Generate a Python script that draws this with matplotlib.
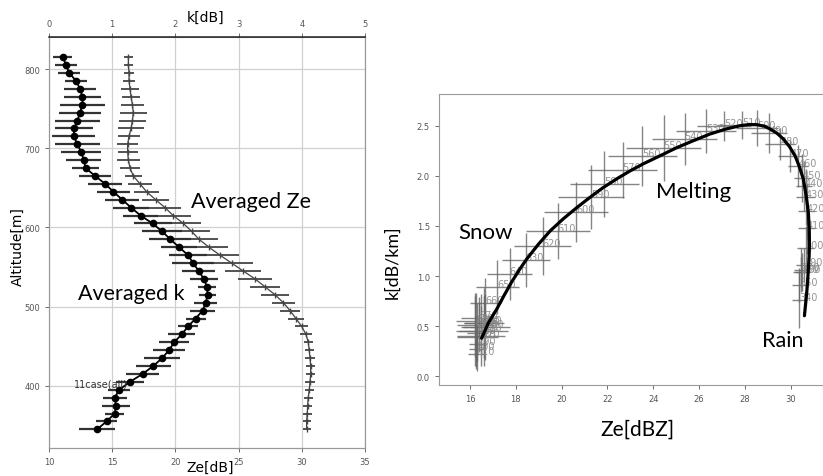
import numpy as np
import matplotlib
matplotlib.use("Agg")
import matplotlib.pyplot as plt

# altitude of each averaged bin [m] (top to bottom)
altitude = [815, 805, 795, 785, 775, 765, 755, 745, 735, 725, 715, 705,
            695, 685, 675, 665, 655, 645, 635, 625, 615, 605, 595, 585,
            575, 565, 555, 545, 535, 525, 515, 505, 495, 485, 475, 465,
            455, 445, 435, 425, 415, 405, 395, 385, 375, 365, 355, 345]

# averaged k [dB]
k_mean = [0.22, 0.27, 0.32, 0.43, 0.49, 0.53, 0.53, 0.49, 0.45, 0.40, 0.39, 0.45,
          0.51, 0.55, 0.58, 0.73, 0.89, 1.02, 1.16, 1.30, 1.45, 1.64, 1.79, 1.92,
          2.06, 2.20, 2.28, 2.37, 2.45, 2.50, 2.51, 2.48, 2.43, 2.32, 2.20, 2.10,
          1.98, 1.90, 1.79, 1.65, 1.48, 1.28, 1.11, 1.04, 1.06, 1.04, 0.91, 0.76]
k_err = [0.15, 0.17, 0.17, 0.17, 0.25, 0.29, 0.35, 0.33, 0.35, 0.30, 0.34, 0.35,
         0.32, 0.28, 0.21, 0.25, 0.27, 0.26, 0.27, 0.29, 0.28, 0.30, 0.32, 0.33,
         0.28, 0.30, 0.33, 0.26, 0.22, 0.15, 0.14, 0.18, 0.20, 0.16, 0.16, 0.21,
         0.24, 0.25, 0.28, 0.28, 0.26, 0.22, 0.17, 0.19, 0.22, 0.15, 0.17, 0.28]

# averaged Ze [dB]
ze_mean = [16.28, 16.28, 16.33, 16.33, 16.41, 16.49, 16.60, 16.67, 16.60, 16.49, 16.33, 16.22,
           16.22, 16.28, 16.41, 16.67, 17.20, 17.73, 18.44, 19.18, 19.83, 20.63, 21.29, 21.87,
           22.66, 23.53, 24.45, 25.37, 26.30, 27.09, 27.88, 28.54, 29.07, 29.54, 29.99, 30.33,
           30.51, 30.59, 30.65, 30.70, 30.70, 30.65, 30.59, 30.51, 30.46, 30.43, 30.38, 30.38]
ze_err = [0.37, 0.34, 0.37, 0.46, 0.70, 0.74, 0.88, 1.06, 1.06, 1.06, 0.90, 0.83,
          0.79, 0.90, 0.79, 0.66, 0.92, 0.99, 1.06, 1.25, 1.39, 1.39, 1.45, 1.49,
          1.52, 1.52, 1.65, 1.41, 1.32, 1.19, 1.08, 0.92, 0.79, 0.66, 0.53, 0.44,
          0.37, 0.36, 0.40, 0.36, 0.36, 0.36, 0.36, 0.34, 0.33, 0.35, 0.32, 0.32]

# fitted Ze-k curve (right panel)
fit_ze = [16.51, 16.80, 17.17, 17.50, 17.82, 18.15, 18.48, 19.00, 19.50, 20.07,
          20.65, 21.24, 21.80, 22.41, 23.00, 23.57, 24.30, 25.02, 25.75, 26.48,
          27.15, 27.79, 28.20, 28.52, 28.85, 29.10, 29.40, 29.68, 29.95, 30.19,
          30.38, 30.55, 30.67, 30.77, 30.81, 30.82, 30.80, 30.77, 30.74, 30.70,
          30.65, 30.60]
fit_k = [0.38, 0.53, 0.67, 0.81, 0.94, 1.06, 1.17, 1.32, 1.45, 1.57,
         1.68, 1.785, 1.88, 1.97, 2.05, 2.12, 2.20, 2.28, 2.35, 2.417,
         2.465, 2.50, 2.512, 2.51, 2.495, 2.467, 2.425, 2.367, 2.29, 2.20,
         2.09, 1.968, 1.81, 1.636, 1.47, 1.30, 1.18, 1.07, 0.95, 0.837,
         0.72, 0.604]

W, H = 823, 477
fig = plt.figure(figsize=(W / 100, H / 100), dpi=100)


def fx(px):
    return px / W


def fy(py):
    return 1 - py / H


tick_kw = dict(labelsize=6, colors="#555555", length=3, width=0.6)
ann_font = ["Lato", "DejaVu Sans"]

# ---------------- left panel: profiles ----------------
ax = fig.add_axes([fx(49), fy(449), fx(365) - fx(49), fy(38) - fy(449)])
ax.set_xlim(10, 35)
ax.set_ylim(321.5, 840.5)
ax.set_xticks([10, 15, 20, 25, 30, 35])
ax.set_yticks([400, 500, 600, 700, 800])
ax.grid(True, color="#d0d0d0", lw=0.9)
ax.set_axisbelow(True)
ax.tick_params(**tick_kw)
for s in ax.spines.values():
    s.set_color("#999999")

ax.errorbar(ze_mean, altitude, xerr=ze_err, color="#444444", lw=0.9,
            elinewidth=1.3, ecolor="#444444", marker="|", ms=5, mew=1,
            capsize=0, zorder=3)

axk = ax.twiny()
axk.set_xlim(0, 5)
axk.set_xticks([0, 1, 2, 3, 4, 5])
axk.tick_params(**tick_kw)
for s in axk.spines.values():
    s.set_color("#999999")
axk.spines["top"].set_color("#222222")
axk.spines["top"].set_linewidth(1.1)
axk.errorbar(k_mean, altitude, xerr=k_err, color="black", lw=1.3,
             elinewidth=1.6, ecolor="#333333", marker="o", ms=4.5,
             capsize=0, zorder=4)

fig.text(fx(206), fy(18), "k[dB]", ha="center", va="center", fontsize=10)
fig.text(fx(210), fy(468), "Ze[dB]", ha="center", va="center", fontsize=10)
fig.text(fx(18), fy(247), "Altitude[m]", ha="center", va="center",
         rotation=90, fontsize=10)
fig.text(fx(191), fy(208), "Averaged Ze", ha="left", va="baseline",
         fontsize=15.5, family=ann_font)
fig.text(fx(78), fy(300), "Averaged k", ha="left", va="baseline",
         fontsize=15.5, family=ann_font)
fig.text(fx(74), fy(385), "11case(all)", ha="left", va="center",
         fontsize=7, color="#333333")

# ---------------- right panel: Ze vs k ----------------
ax2 = fig.add_axes([fx(439), fy(385.7), 1 - fx(439), fy(95) - fy(385.7)])
ax2.set_xlim(14.65, 31.41)
ax2.set_ylim(-0.084, 2.816)
ax2.set_xticks([16, 18, 20, 22, 24, 26, 28, 30])
ax2.set_yticks([0.0, 0.5, 1.0, 1.5, 2.0, 2.5])
ax2.set_yticklabels(["0.0", "0.5", "1.0", "1.5", "2.0", "2.5"])
ax2.tick_params(**tick_kw)
for s in ax2.spines.values():
    s.set_color("#999999")
ax2.spines["right"].set_visible(False)

ax2.errorbar(ze_mean, k_mean, xerr=ze_err, yerr=k_err, fmt="none",
             ecolor="#666666", elinewidth=1, alpha=0.8, capsize=0, zorder=2)
for z, kk, a in zip(ze_mean, k_mean, altitude):
    ax2.text(z, kk, str(a - 5), fontsize=7, color="#888888", alpha=0.9,
             zorder=3, clip_on=True)
ax2.plot(fit_ze, fit_k, color="black", lw=2.3, zorder=4,
         solid_capstyle="round", solid_joinstyle="round")

fig.text(fx(392), fy(262), "k[dB/km]", ha="center", va="center",
         rotation=90, fontsize=13, family=ann_font)
fig.text(fx(637), fy(430), "Ze[dBZ]", ha="center", va="center",
         fontsize=15, family=ann_font)
fig.text(fx(458), fy(233), "Snow", ha="left", va="center",
         fontsize=16, family=ann_font)
fig.text(fx(656), fy(192), "Melting", ha="left", va="center",
         fontsize=16, family=ann_font)
fig.text(fx(762), fy(341), "Rain", ha="left", va="center",
         fontsize=15.5, family=ann_font)

fig.savefig("out.png", dpi=100)
